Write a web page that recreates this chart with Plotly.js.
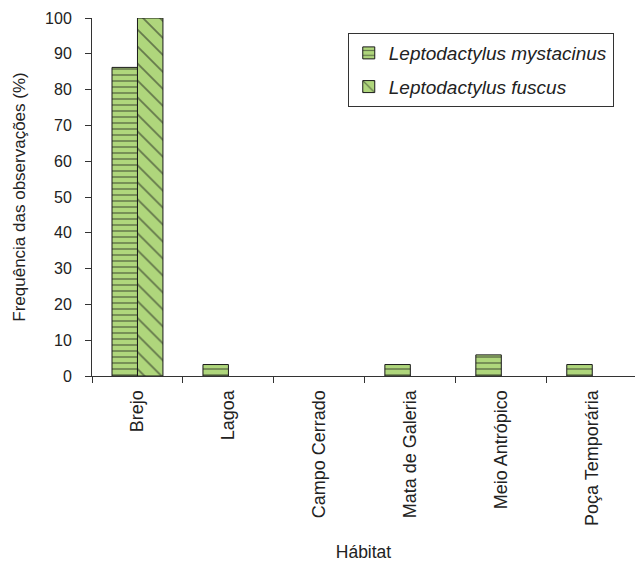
<!DOCTYPE html>
<html>
<head>
<meta charset="utf-8">
<script src="https://cdn.plot.ly/plotly-3.0.1.min.js"></script>
<style>html,body{margin:0;padding:0;background:#fff;}#chart{width:635px;height:562px;}</style>
</head>
<body>
<div id="chart"></div>
<script>
var categories = ["Brejo", "Lagoa", "Campo Cerrado", "Mata de Galeria", "Meio Antrópico", "Poça Temporária"];
var mystacinus = [86.2, 3.2, 0, 3.2, 5.9, 3.2];
var fuscus = [100, 0, 0, 0, 0, 0];
var seriesNames = ["Leptodactylus mystacinus", "Leptodactylus fuscus"];

var green = "#afd67c";
function outlineWidths(vals) { return vals.map(function (v) { return v > 0 ? 1 : 0; }); }

var traces = [
  {
    type: "bar", name: seriesNames[0], x: categories, y: mystacinus, legendgroup: "a",
    marker: {color: green, line: {color: "#1a1a1a", width: outlineWidths(mystacinus)},
      pattern: {shape: "-", fgcolor: "#1a1a1a", bgcolor: green, size: 6, solidity: 0.25, fillmode: "overlay"}},
    hoverinfo: "x+y"
  },
  {
    type: "bar", name: seriesNames[1], x: categories, y: fuscus, legendgroup: "b",
    marker: {color: green, line: {color: "#1a1a1a", width: outlineWidths(fuscus)},
      pattern: {shape: "\\", fgcolor: "#1a1a1a", bgcolor: green, size: 12, solidity: 0.15, fillmode: "overlay"}},
    hoverinfo: "x+y"
  }
];

var layout = {
  width: 635, height: 562,
  margin: {l: 92, r: 0, t: 18, b: 186},
  paper_bgcolor: "#fff", plot_bgcolor: "#fff",
  font: {family: "Liberation Sans, Arial, sans-serif", size: 16, color: "#222"},
  barmode: "group", bargap: 0.44, bargroupgap: 0,
  showlegend: true,
  legend: {x: 0.471, y: 0.958, xanchor: "left", yanchor: "top",
    bordercolor: "#333", borderwidth: 1, bgcolor: "#fff",
    font: {size: 19, style: "italic"}, traceorder: "grouped", tracegroupgap: 6},
  xaxis: {
    type: "category", range: [-0.5, 5.47],
    showline: true, linecolor: "#333", linewidth: 1,
    ticks: "outside", ticklen: 6, tickcolor: "#333", tickson: "boundaries",
    tickangle: -90, tickfont: {size: 18}, ticklabelstandoff: 6,
    showgrid: false, zeroline: false,
    title: {text: "Hábitat", font: {size: 17.5}, standoff: 26}
  },
  yaxis: {
    range: [0, 100], dtick: 10, tick0: 0,
    showline: true, linecolor: "#333", linewidth: 1,
    ticks: "outside", ticklen: 6, tickcolor: "#333",
    tickfont: {size: 16}, ticklabelstandoff: 10,
    showgrid: false, zeroline: false,
    title: {text: "Frequência das observações (%)", font: {size: 17}, standoff: 15}
  }
};

Plotly.newPlot("chart", traces, layout, {displayModeBar: false, staticPlot: true});
</script>
</body>
</html>
